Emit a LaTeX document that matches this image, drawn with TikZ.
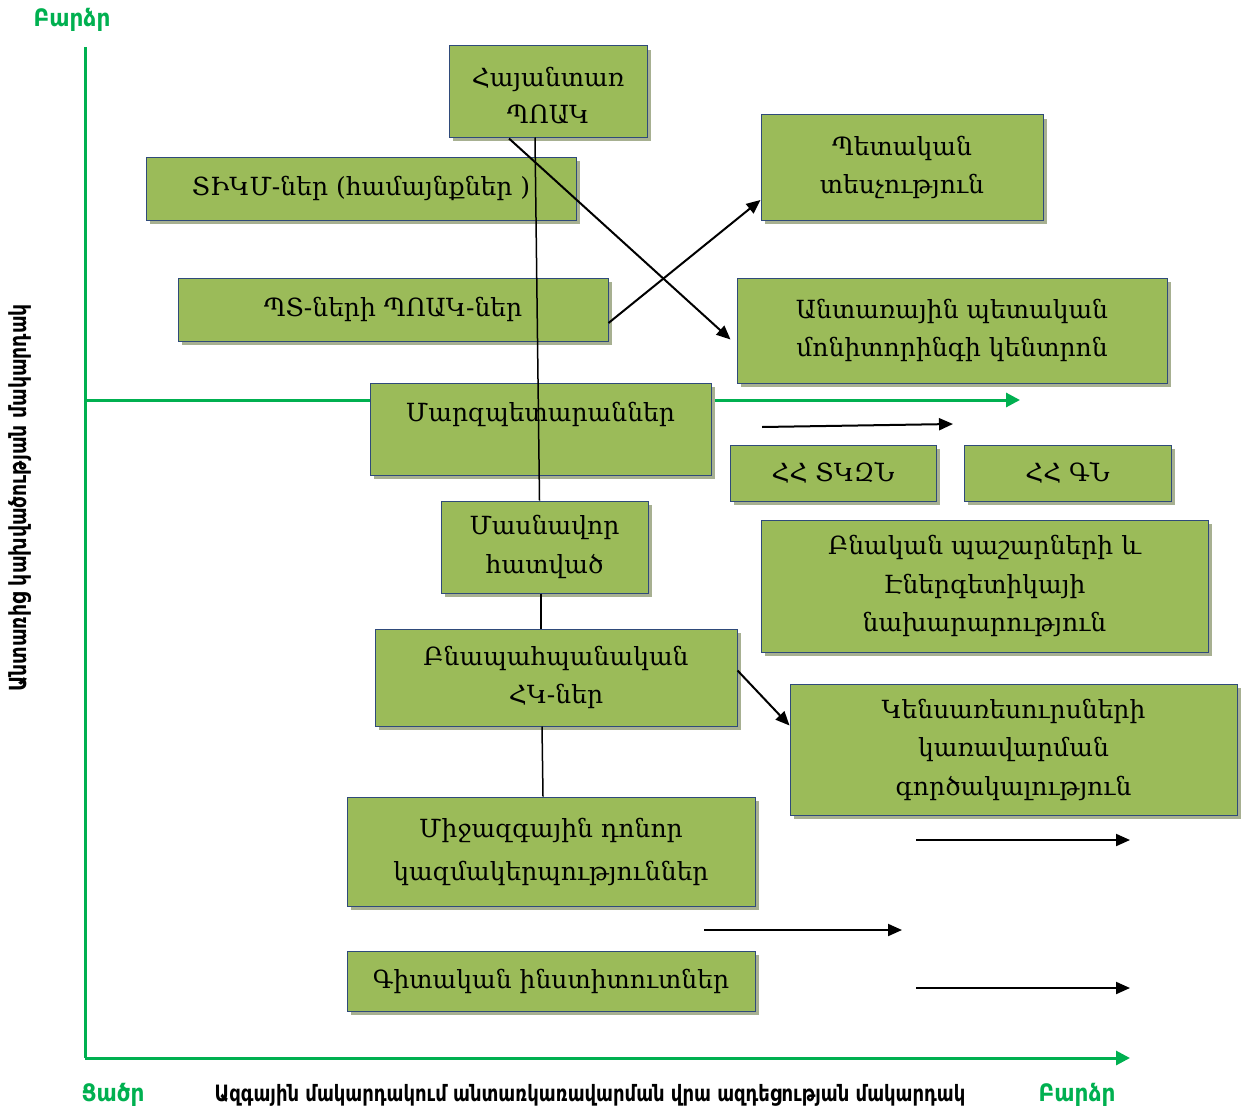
\documentclass[tikz,border=0pt]{standalone}
\usepackage{fontspec}
\setmainfont{DejaVu Serif}
\newfontfamily\armsans[FakeStretch=0.8]{DejaVu Sans}
\newfontfamily\armgreen[FakeStretch=0.9]{DejaVu Sans}
\usetikzlibrary{arrows.meta,calc,shadows}
\definecolor{boxgreen}{HTML}{9BBB59}
\definecolor{boxedge}{HTML}{2F4A7A}
\definecolor{shade}{HTML}{A7B091}
\definecolor{axisgreen}{HTML}{00B050}
\tikzset{
  box/.style={draw=boxedge, line width=1pt, fill=boxgreen, align=center,
    inner sep=0pt, font=\fontsize{25}{38.5}\selectfont,
    drop shadow={shadow xshift=4pt, shadow yshift=-4pt, fill=shade, opacity=1}},
  txt/.style={align=center, inner sep=0pt, font=\fontsize{25}{37}\selectfont},
  axis/.style={draw=axisgreen, line width=3pt},
  axarrow/.style={axis, -{Triangle[length=14pt,width=14pt]}},
  conn/.style={draw=black, line width=1.5pt},
  arr/.style={draw=black, line width=2pt, -{Triangle[length=14pt,width=12pt]}},
  glabel/.style={text=axisgreen, inner sep=0pt, font=\armgreen\bfseries\fontsize{24}{28}\selectfont},
  blabel/.style={text=black, inner sep=0pt, font=\armsans\bfseries\fontsize{22.5}{26}\selectfont}
}
\begin{document}
\begin{tikzpicture}[x=1pt,y=-1pt]
\useasboundingbox (0,0) rectangle (1246,1113);
% axes
\coordinate (ytop) at (85,47);
\coordinate (org) at (85,1058);
\coordinate (xend) at (1130,1058);
\coordinate (mleft) at (85,400);
\coordinate (mright) at (1020,400);
\draw[axis] (ytop) -- (org);
\draw[axarrow] (org) -- (xend);
\draw[axarrow] (mleft) -- (mright);
% axis labels
\node[glabel] (hiY) at (72,20) {Բարձր};
\node[glabel] (lowX) at (113,1095) {Ցածր};
\node[glabel] (hiX) at (1077,1095) {Բարձր};
\node[blabel] (xlab) at (590,1095) {Ազգային մակարդակում անտառկառավարման վրա ազդեցության  մակարդակ};
\node[blabel, font=\armsans\bfseries\fontsize{23.5}{26}\selectfont, rotate=90] (ylab) at (20,498) {Անտառից կախվածության մակարդակ};
% boxes
\node[box, minimum width=198pt, minimum height=91pt] (hay) at (548,91.5) {};
\node[txt] (hayT) at (548,96) {Հայանտառ\\ՊՈԱԿ};
\node[box, minimum width=430pt, minimum height=63pt] (tikm) at (361,188.5) {ՏԻԿՄ-ներ (համայնքներ )};
\node[box, minimum width=430pt, minimum height=63pt] (ptn) at (393,309.5) {ՊՏ-ների ՊՈԱԿ-ներ};
\node[box, minimum width=341pt, minimum height=92pt] (marz) at (540.5,429) {};
\node[txt] (marzT) at (540.5,414) {Մարզպետարաններ};
\node[box, minimum width=207pt, minimum height=92pt] (mas) at (544.5,547) {Մասնավոր\\հատված};
\node[box, minimum width=362pt, minimum height=97pt] (bna) at (556,677.5) {Բնապահպանական\\ՀԿ-ներ};
\node[box, minimum width=408pt, minimum height=109pt, font=\fontsize{25}{43}\selectfont] (mij) at (551,851.5) {Միջազգային  դոնոր\\կազմակերպություններ};
\node[box, minimum width=408pt, minimum height=60pt] (git) at (551,981) {Գիտական ինստիտուտներ};
\node[box, minimum width=282pt, minimum height=105pt] (pet) at (902,167.5) {Պետական\\տեսչություն};
\node[box, minimum width=430pt, minimum height=105pt] (ant) at (952,330.5) {Անտառային պետական\\մոնիտորինգի կենտրոն};
\node[box, minimum width=206pt, minimum height=56pt] (tkzn) at (833,473) {ՀՀ ՏԿԶՆ};
\node[box, minimum width=207pt, minimum height=56pt] (gn) at (1067.5,473) {ՀՀ ԳՆ};
\node[box, minimum width=447pt, minimum height=132pt] (bnak) at (984.5,586) {Բնական պաշարների և\\Էներգետիկայի\\նախարարություն};
\node[box, minimum width=447pt, minimum height=131pt] (kens) at (1013.5,749.5) {Կենսառեսուրսների\\կառավարման\\գործակալություն};
% connectors
\draw[conn] ($(hay.south)+(-13,0)$) -- ($(mas.north)+(-5,0)$);
\draw[conn] ($(mas.south)+(-3.5,0)$) -- ($(bna.north)+(-15,0)$);
\draw[conn] ($(bna.south)+(-14,0)$) -- ($(mij.north)+(-8,0)$);
\draw[arr] ($(hay.south)+(-39,1)$) -- ($(ant.west)+(-6,9)$);
\draw[arr] ($(ptn.east)+(0,13.5)$) -- ($(pet.west)+(0,32.5)$);
\draw[arr] ($(bna.east)+(0,-7)$) -- ($(kens.west)+(0,-24)$);
% free arrows
\coordinate (a1s) at (762,427); \coordinate (a1e) at (953,424);
\coordinate (a2s) at (916,840); \coordinate (a2e) at (1130,840);
\coordinate (a3s) at (704,930); \coordinate (a3e) at (902,930);
\coordinate (a4s) at (916,988); \coordinate (a4e) at (1130,988);
\draw[arr] (a1s) -- (a1e);
\draw[arr] (a2s) -- (a2e);
\draw[arr] (a3s) -- (a3e);
\draw[arr] (a4s) -- (a4e);
\end{tikzpicture}
\end{document}
